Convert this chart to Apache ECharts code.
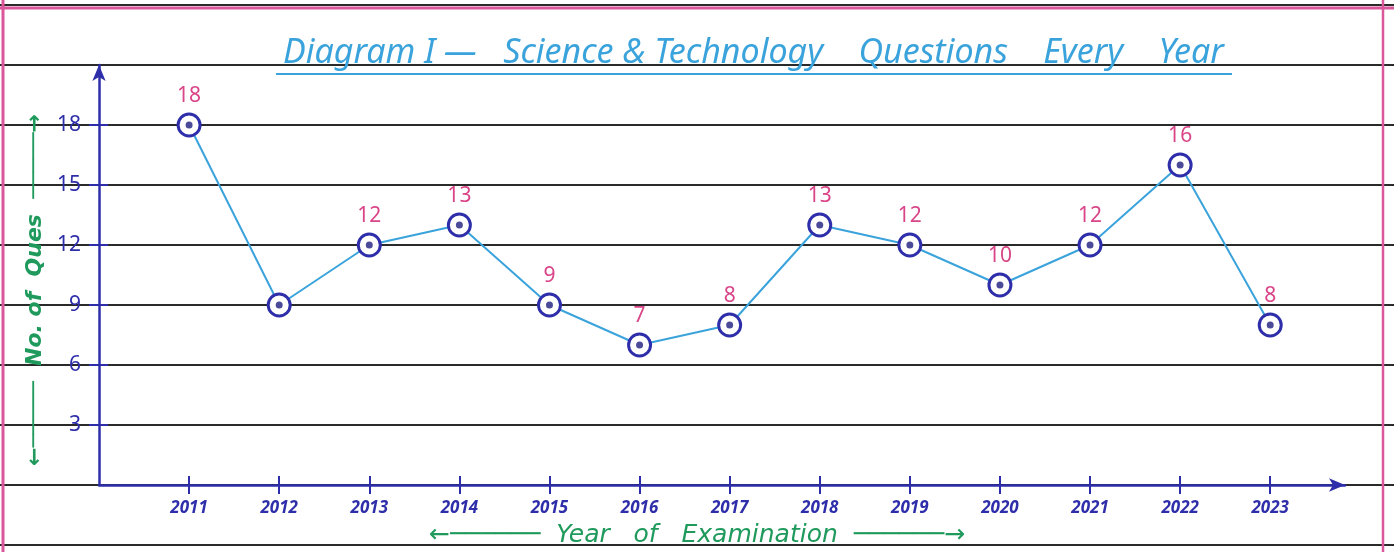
<!DOCTYPE html>
<html>
<head>
<meta charset="utf-8">
<script src="https://cdn.jsdelivr.net/npm/echarts@6/dist/echarts.min.js"></script>
<style>
html,body{margin:0;padding:0;background:#fff;}
#chart{width:1394px;height:552px;}
</style>
</head>
<body>
<div id="chart"></div>
<script>
// data
var years=[2011,2012,2013,2014,2015,2016,2017,2018,2019,2020,2021,2022,2023];
var questions=[18,9,12,13,9,7,8,13,12,10,12,16,8];
var yTicks=[3,6,9,12,15,18];
var unlabeled=[2012]; //no number written above this point

var blue='#2e2eaa';   //axis ink
var pink='#d94588';   //value labels
var green='#1f9a5c';  //axis names
var sky='#3aa3dc';    //line + title
var margin='#d9579a'; //paper margin

var points=years.map(function(y,i){
	var item={value:[y,questions[i]]};
	if(unlabeled.indexOf(y)>-1){
		item.label={show:false};
	}
	return item;
});
var dots=years.map(function(y,i){return [y,questions[i]];});
var shaft='\u2500\u2500\u2500\u2500\u2500';

var chart=echarts.init(document.getElementById('chart'));
chart.setOption({
	animation:false,
	title:{
		text:'Diagram I \u2014   Science & Technology    Questions    Every    Year',
		left:278,top:31,
		textStyle:{color:sky,fontSize:34,fontStyle:'italic',fontWeight:'normal',fontFamily:'Noto Sans'}
	},
	graphic:[
		//title underline
		{type:'line',shape:{x1:276,y1:74,x2:1232,y2:74},style:{stroke:sky,lineWidth:2}},
		//pink margins of the notebook page
		{type:'line',shape:{x1:0,y1:8,x2:1394,y2:8},style:{stroke:margin,lineWidth:3},z:10},
		{type:'line',shape:{x1:3,y1:0,x2:3,y2:552},style:{stroke:margin,lineWidth:3},z:10},
		{type:'line',shape:{x1:1383,y1:0,x2:1383,y2:552},style:{stroke:margin,lineWidth:2.5},z:10}
	],
	grid:[
		{left:0,right:0,top:5,bottom:7,outerBoundsMode:'none'},     //ruled lines of the page
		{left:99,right:49,top:65,bottom:67,outerBoundsMode:'none'}  //the diagram itself
	],
	xAxis:[
		{gridIndex:0,type:'value',show:false,min:0,max:1},
		{
			gridIndex:1,type:'value',position:'bottom',min:2010,max:2023.83,interval:1,
			axisLine:{lineStyle:{color:blue,width:2.5},symbol:['none','arrow'],symbolSize:[10,16]},
			axisTick:{customValues:years,length:9,lineStyle:{color:blue,width:2}},
			axisLabel:{customValues:years,formatter:function(v){return String(v);},color:blue,fontSize:17,fontWeight:'bold',fontStyle:'italic',margin:15,fontFamily:'Noto Sans'},
			splitLine:{show:false},
			name:'\u2190'+shaft+'\u2500  Year   of   Examination  '+shaft+'\u2500\u2192',
			nameLocation:'middle',nameGap:38,
			nameTextStyle:{color:green,fontSize:25,fontStyle:'italic',fontFamily:'DejaVu Sans',padding:[0,0,0,-50]}
		},
		{
			gridIndex:1,type:'value',position:'bottom',min:2010,max:2023.83,interval:1,
			axisLine:{show:false},axisLabel:{show:false},splitLine:{show:false},
			axisTick:{customValues:years,inside:true,length:9,lineStyle:{color:blue,width:2}}
		}
	],
	yAxis:[
		{
			gridIndex:0,type:'value',min:-3,max:24,interval:3,
			axisLine:{show:false},axisTick:{show:false},axisLabel:{show:false},
			splitLine:{show:true,lineStyle:{color:'#2a2a2a',width:2}}
		},
		{
			gridIndex:1,type:'value',position:'left',min:0,max:21,interval:3,
			axisLine:{show:true,lineStyle:{color:blue,width:2.5},symbol:['none','arrow'],symbolSize:[10,16]},
			axisTick:{customValues:yTicks,length:10,lineStyle:{color:blue,width:2}},
			axisLabel:{customValues:yTicks,color:blue,fontSize:21,margin:18,fontFamily:'Noto Sans'},
			splitLine:{show:false},
			name:'\u2190'+shaft+'  No. of  Ques  '+shaft+'\u2192',
			nameLocation:'middle',nameRotate:90,nameGap:50,
			nameTextStyle:{color:green,fontSize:22,fontStyle:'italic',fontWeight:'bold',fontFamily:'DejaVu Sans',padding:[0,0,0,-30]}
		},
		{
			gridIndex:1,type:'value',position:'left',min:0,max:21,interval:3,
			axisLine:{show:false},axisLabel:{show:false},splitLine:{show:false},
			axisTick:{customValues:yTicks,inside:true,length:9,lineStyle:{color:blue,width:2}}
		}
	],
	series:[
		{
			type:'line',xAxisIndex:1,yAxisIndex:1,data:points,
			lineStyle:{color:sky,width:2},
			symbol:'circle',symbolSize:22,
			itemStyle:{color:'#fff',borderColor:blue,borderWidth:3},
			label:{show:true,position:'top',distance:6,color:pink,fontSize:21,fontFamily:'Noto Sans'},
			z:3
		},
		{
			type:'scatter',xAxisIndex:1,yAxisIndex:1,data:dots,
			symbol:'circle',symbolSize:7,
			itemStyle:{color:'#1d1d80'},
			z:4
		}
	]
});
</script>
</body>
</html>
